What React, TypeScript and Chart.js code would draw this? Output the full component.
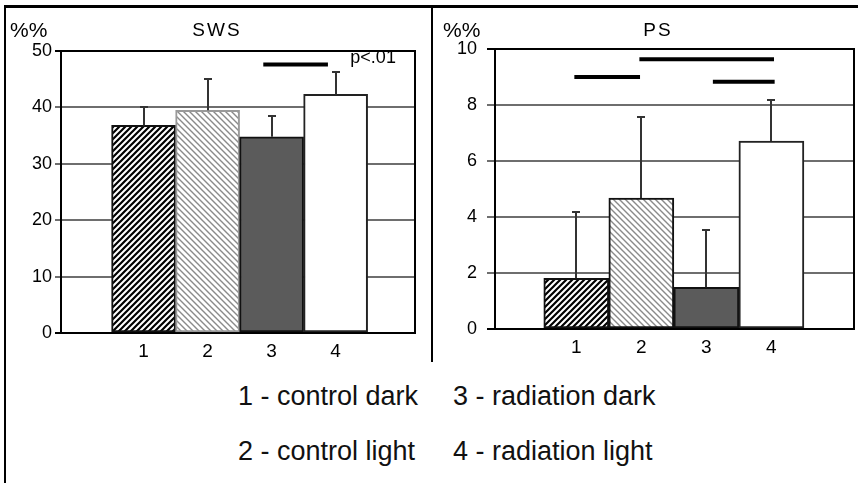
import React, { useEffect, useRef } from 'react';
import { Chart, registerables } from 'chart.js';

Chart.register(...registerables);

// ---------- data ----------
const categories = [1, 2, 3, 4];
const categoryLabels = ['1', '2', '3', '4'];

const swsTitle = 'SWS';
const swsMeans = [36.8, 39.5, 34.8, 42.3];
const swsErrors = [3.3, 5.5, 3.6, 4.0];
const swsSigFrom = [2.87];
const swsSigTo = [3.88];
const swsSigLevel = [47.6];
const swsNote = 'p<.01';
const swsNoteAt = [4.23, 47.9];

const psTitle = 'PS';
const psMeans = [1.81, 4.68, 1.49, 6.71];
const psErrors = [2.38, 2.89, 2.05, 1.48];
const psSigFrom = [0.97, 1.97, 3.1];
const psSigTo = [1.98, 4.04, 4.05];
const psSigLevel = [9.0, 9.63, 8.83];

const unitLabel = '%%';
const legendLeft = ['1 - control dark', '2 - control light'];
const legendRight = ['3 - radiation dark', '4 - radiation light'];

// ---------- helpers ----------
function hatch(color: string, size: number, width: number, dir: 'fwd' | 'back') {
  const c = document.createElement('canvas');
  c.width = size;
  c.height = size;
  const g = c.getContext('2d')!;
  g.fillStyle = '#fff';
  g.fillRect(0, 0, size, size);
  g.strokeStyle = color;
  g.lineWidth = width;
  g.beginPath();
  if (dir === 'fwd') {
    g.moveTo(0, size); g.lineTo(size, 0);
    g.moveTo(-size / 2, size / 2); g.lineTo(size / 2, -size / 2);
    g.moveTo(size / 2, size * 1.5); g.lineTo(size * 1.5, size / 2);
  } else {
    g.moveTo(0, 0); g.lineTo(size, size);
    g.moveTo(-size / 2, size / 2); g.lineTo(size / 2, size * 1.5);
    g.moveTo(size / 2, -size / 2); g.lineTo(size * 1.5, size / 2);
  }
  g.stroke();
  return g.createPattern(c, 'repeat')!;
}

type Cfg = {
  means: number[];
  errors: number[];
  yMax: number;
  yStep: number;
  xMin: number;
  xMax: number;
  sigFrom: number[];
  sigTo: number[];
  sigLevel: number[];
  padTop: number;
  padRight: number;
  yWidth: number;
  xHeight: number;
  tickLength: number;
  tickPadding: number;
  borderColors: string[];
  note?: string;
  noteAt?: number[];
};

function buildChart(canvas: HTMLCanvasElement, cfg: Cfg) {
  const fills: any[] = [
    hatch('#000', 6, 2.2, 'fwd'),
    hatch('#8a8a8a', 6, 1.4, 'back'),
    '#5b5b5b',
    '#ffffff',
  ];
  const sigSets = cfg.sigFrom.map((f, i) => ({
    type: 'line' as const,
    data: [
      { x: f, y: cfg.sigLevel[i] },
      { x: cfg.sigTo[i], y: cfg.sigLevel[i] },
    ],
    borderColor: '#000',
    borderWidth: 4,
    pointRadius: 0,
    borderCapStyle: 'butt' as const,
  }));

  const decorations = {
    id: 'decorations',
    beforeDatasetsDraw(chart: any) {
      const { ctx, chartArea } = chart;
      ctx.save();
      ctx.strokeStyle = '#000';
      ctx.lineWidth = 2;
      ctx.beginPath();
      ctx.moveTo(chartArea.right, chartArea.top - 1);
      ctx.lineTo(chartArea.right, chartArea.bottom + 1);
      ctx.stroke();
      ctx.restore();
    },
    afterDatasetsDraw(chart: any) {
      const { ctx } = chart;
      const xs = chart.scales.x;
      const ys = chart.scales.y;
      ctx.save();
      ctx.strokeStyle = '#333';
      ctx.lineWidth = 2;
      categories.forEach((c, i) => {
        const x = Math.round(xs.getPixelForValue(c));
        const y0 = ys.getPixelForValue(cfg.means[i]);
        const y1 = Math.round(ys.getPixelForValue(cfg.means[i] + cfg.errors[i]));
        ctx.beginPath();
        ctx.moveTo(x, y0);
        ctx.lineTo(x, y1);
        ctx.moveTo(x - 4, y1);
        ctx.lineTo(x + 4, y1);
        ctx.stroke();
      });
      if (cfg.note && cfg.noteAt) {
        ctx.fillStyle = '#000';
        ctx.font = '18px "Liberation Sans", Arial, sans-serif';
        ctx.textBaseline = 'alphabetic';
        ctx.textAlign = 'left';
        ctx.fillText(cfg.note, xs.getPixelForValue(cfg.noteAt[0]), ys.getPixelForValue(cfg.noteAt[1]));
      }
      ctx.restore();
    },
  };

  const tickFont = { family: '"Liberation Sans", Arial, sans-serif', size: 18 };

  return new Chart(canvas, {
    type: 'bar',
    data: {
      datasets: [
        {
          type: 'bar',
          data: categories.map((c, i) => ({ x: c, y: cfg.means[i] })),
          backgroundColor: fills,
          borderColor: cfg.borderColors,
          borderWidth: 2,
          borderSkipped: false,
          barPercentage: 1,
          categoryPercentage: 1,
        } as any,
        ...(sigSets as any[]),
      ],
    },
    options: {
      responsive: false,
      animation: false,
      devicePixelRatio: 1,
      layout: { padding: { top: cfg.padTop, right: cfg.padRight, left: 0, bottom: 0 } },
      plugins: { legend: { display: false }, tooltip: { enabled: false } },
      scales: {
        x: {
          type: 'linear',
          min: cfg.xMin,
          max: cfg.xMax,
          offset: false,
          grid: { display: false, drawTicks: false },
          border: { display: true, color: '#000', width: 2 },
          ticks: {
            stepSize: 1,
            includeBounds: false,
            autoSkip: false,
            maxRotation: 0,
            padding: 7,
            color: '#000',
            font: { ...tickFont, size: 19 },
            callback: (v: any) => {
              const i = categories.indexOf(Number(v));
              return i >= 0 ? categoryLabels[i] : '';
            },
          },
          afterFit: (s: any) => {
            s.height = cfg.xHeight;
          },
        },
        y: {
          type: 'linear',
          min: 0,
          max: cfg.yMax,
          grid: {
            color: (ctx: any) =>
              ctx.tick && (ctx.tick.value === cfg.yMax || ctx.tick.value === 0) ? '#000' : '#6e6e6e',
            lineWidth: 2,
            drawTicks: true,
            tickLength: cfg.tickLength,
          },
          border: { display: true, color: '#000', width: 2 },
          ticks: {
            stepSize: cfg.yStep,
            padding: cfg.tickPadding,
            color: '#000',
            font: tickFont,
          },
          afterFit: (s: any) => {
            s.width = cfg.yWidth;
          },
        },
      },
    } as any,
    plugins: [decorations],
  });
}

const textBase: React.CSSProperties = {
  position: 'absolute',
  fontFamily: '"Liberation Sans", Arial, sans-serif',
  color: '#000',
  whiteSpace: 'nowrap',
};

const legendStyle: React.CSSProperties = {
  position: 'absolute',
  fontFamily: '"Liberation Sans", Arial, sans-serif',
  fontSize: 27,
  lineHeight: '27px',
  color: '#111',
  whiteSpace: 'nowrap',
};

export default function App() {
  const leftRef = useRef<HTMLCanvasElement>(null);
  const rightRef = useRef<HTMLCanvasElement>(null);

  useEffect(() => {
    const left = buildChart(leftRef.current!, {
      means: swsMeans,
      errors: swsErrors,
      yMax: 50,
      yStep: 10,
      xMin: -0.29,
      xMax: 5.24,
      sigFrom: swsSigFrom,
      sigTo: swsSigTo,
      sigLevel: swsSigLevel,
      padTop: 51,
      padRight: 17,
      yWidth: 61,
      xHeight: 32,
      tickLength: 6,
      tickPadding: 3,
      borderColors: ['#111', '#9a9a9a', '#111', '#222'],
      note: swsNote,
      noteAt: swsNoteAt,
    });
    const right = buildChart(rightRef.current!, {
      means: psMeans,
      errors: psErrors,
      yMax: 10,
      yStep: 2,
      xMin: -0.25,
      xMax: 5.27,
      sigFrom: psSigFrom,
      sigTo: psSigTo,
      sigLevel: psSigLevel,
      padTop: 49,
      padRight: 4,
      yWidth: 63,
      xHeight: 36,
      tickLength: 8,
      tickPadding: 10,
      borderColors: ['#111', '#111', '#111', '#222'],
    });
    return () => {
      left.destroy();
      right.destroy();
    };
  }, []);

  return (
    <div
      style={{
        position: 'fixed',
        left: 0,
        top: 0,
        width: 858,
        height: 483,
        background: '#fff',
        overflow: 'hidden',
      }}
    >
      <canvas ref={leftRef} width={432} height={365} style={{ position: 'absolute', left: 0, top: 0 }} />
      <canvas ref={rightRef} width={426} height={365} style={{ position: 'absolute', left: 432, top: 0 }} />

      <div style={{ position: 'absolute', left: 4, top: 5, width: 854, height: 3, background: '#000' }} />
      <div style={{ position: 'absolute', left: 4, top: 5, width: 2, height: 478, background: '#000' }} />
      <div style={{ position: 'absolute', left: 431, top: 5, width: 2, height: 357, background: '#000' }} />

      <div style={{ ...textBase, left: 10, top: 19, fontSize: 21, lineHeight: '21px' }}>{unitLabel}</div>
      <div style={{ ...textBase, left: 167, width: 100, textAlign: 'center', top: 20, fontSize: 19, lineHeight: '19px', letterSpacing: '2px' }}>{swsTitle}</div>
      <div style={{ ...textBase, left: 443, top: 19, fontSize: 21, lineHeight: '21px' }}>{unitLabel}</div>
      <div style={{ ...textBase, left: 608, width: 100, textAlign: 'center', top: 20, fontSize: 19, lineHeight: '19px', letterSpacing: '2px' }}>{psTitle}</div>

      {legendLeft.map((t, i) => (
        <div key={'l' + i} style={{ ...legendStyle, left: 238, top: 383 + i * 55 }}>{t}</div>
      ))}
      {legendRight.map((t, i) => (
        <div key={'r' + i} style={{ ...legendStyle, left: 453, top: 383 + i * 55 }}>{t}</div>
      ))}
    </div>
  );
}
